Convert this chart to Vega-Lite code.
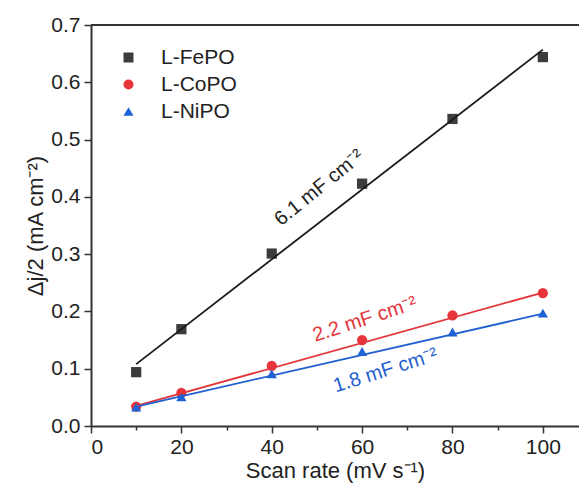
{
  "$schema": "https://vega.github.io/schema/vega-lite/v6.json",
  "width": 488,
  "height": 401,
  "autosize": {"type": "none"},
  "padding": {"left": 91, "top": 25, "right": 0, "bottom": 62},
  "background": "white",
  "config": {
    "view": {"stroke": null},
    "font": "Liberation Sans",
    "axis": {"grid": false, "domainColor": "#333333", "domainWidth": 2, "tickColor": "#333333", "tickWidth": 1.5, "labelColor": "#222222", "titleColor": "#222222", "labelFont": "Liberation Sans", "titleFont": "Liberation Sans", "labelFontSize": 21, "titleFontSize": 22, "titleFontWeight": "normal"}
  },
  "datasets": {
    "pts": [
      {"series": "L-FePO", "x": 10, "y": 0.094},
      {"series": "L-FePO", "x": 20, "y": 0.169},
      {"series": "L-FePO", "x": 40, "y": 0.301},
      {"series": "L-FePO", "x": 60, "y": 0.423},
      {"series": "L-FePO", "x": 80, "y": 0.536},
      {"series": "L-FePO", "x": 100, "y": 0.644},
      {"series": "L-CoPO", "x": 10, "y": 0.034},
      {"series": "L-CoPO", "x": 20, "y": 0.058},
      {"series": "L-CoPO", "x": 40, "y": 0.105},
      {"series": "L-CoPO", "x": 60, "y": 0.150},
      {"series": "L-CoPO", "x": 80, "y": 0.193},
      {"series": "L-CoPO", "x": 100, "y": 0.232},
      {"series": "L-NiPO", "x": 10, "y": 0.033},
      {"series": "L-NiPO", "x": 20, "y": 0.051},
      {"series": "L-NiPO", "x": 40, "y": 0.091},
      {"series": "L-NiPO", "x": 60, "y": 0.130},
      {"series": "L-NiPO", "x": 80, "y": 0.164},
      {"series": "L-NiPO", "x": 100, "y": 0.197}
    ],
    "fits": [
      {"series": "L-FePO", "x": 10, "y": 0.108},
      {"series": "L-FePO", "x": 100, "y": 0.657},
      {"series": "L-CoPO", "x": 10, "y": 0.035},
      {"series": "L-CoPO", "x": 100, "y": 0.233},
      {"series": "L-NiPO", "x": 10, "y": 0.034},
      {"series": "L-NiPO", "x": 100, "y": 0.196}
    ],
    "labels": [
      {"series": "L-FePO", "label": "6.1 mF cm⁻²", "x": 50.5, "y": 0.416},
      {"series": "L-CoPO", "label": "2.2 mF cm⁻²", "x": 60.6, "y": 0.186},
      {"series": "L-NiPO", "label": "1.8 mF cm⁻²", "x": 65.2, "y": 0.097}
    ],
    "frame": [{"y": 0.7}]
  },
  "layer": [
    {
      "data": {"name": "pts"},
      "mark": {"type": "point", "filled": true, "opacity": 1, "size": 105},
      "encoding": {
        "x": {"field": "x", "type": "quantitative", "scale": {"domain": [0, 108], "nice": false, "zero": false},
          "axis": {"title": "Scan rate (mV s⁻¹)", "values": [0, 10, 20, 30, 40, 50, 60, 70, 80, 90, 100], "labelExpr": "datum.value % 20 == 0 ? datum.label : ''", "tickSize": {"condition": {"test": "datum.value % 20 != 0", "value": 4}, "value": 7}, "labelPadding": 3, "titlePadding": 3}},
        "y": {"field": "y", "type": "quantitative", "scale": {"domain": [0, 0.7], "nice": false},
          "axis": {"title": "Δj/2 (mA cm⁻²)", "values": [0, 0.05, 0.1, 0.15, 0.2, 0.25, 0.3, 0.35, 0.4, 0.45, 0.5, 0.55, 0.6, 0.65, 0.7], "labelExpr": "round(datum.value*100) % 10 == 5 ? '' : format(datum.value, '.1f')", "tickSize": {"condition": {"test": "round(datum.value*100) % 10 == 5", "value": 4}, "value": 7}, "labelPadding": 4, "titlePadding": 3}},
        "color": {"field": "series", "type": "nominal", "scale": {"domain": ["L-FePO", "L-CoPO", "L-NiPO"], "range": ["#3c3c3c", "#e8343b", "#1d62d6"]},
          "legend": {"title": null, "orient": "none", "legendX": 27, "legendY": 22, "padding": 0, "labelFontSize": 21, "labelFont": "Liberation Sans", "labelColor": "#222222", "labelOffset": 22, "rowPadding": 5, "symbolSize": 100}},
        "shape": {"field": "series", "type": "nominal", "scale": {"domain": ["L-FePO", "L-CoPO", "L-NiPO"], "range": ["square", "circle", "triangle-up"]},
          "legend": {"title": null, "orient": "none", "legendX": 27, "legendY": 22, "padding": 0, "labelFontSize": 21, "labelFont": "Liberation Sans", "labelColor": "#222222", "labelOffset": 22, "rowPadding": 5, "symbolSize": 100}}
      }
    },
    {
      "data": {"name": "frame"},
      "mark": {"type": "rule", "color": "#333333", "strokeWidth": 2},
      "encoding": {
        "y": {"field": "y", "type": "quantitative"}
      }
    },
    {
      "data": {"name": "fits"},
      "transform": [{"filter": "datum.series == 'L-FePO'"}],
      "mark": {"type": "line", "strokeWidth": 1.8, "color": "#1a1a1a"},
      "encoding": {
        "x": {"field": "x", "type": "quantitative"},
        "y": {"field": "y", "type": "quantitative"}
      }
    },
    {
      "data": {"name": "fits"},
      "transform": [{"filter": "datum.series == 'L-CoPO'"}],
      "mark": {"type": "line", "strokeWidth": 1.8, "color": "#e3343b"},
      "encoding": {
        "x": {"field": "x", "type": "quantitative"},
        "y": {"field": "y", "type": "quantitative"}
      }
    },
    {
      "data": {"name": "fits"},
      "transform": [{"filter": "datum.series == 'L-NiPO'"}],
      "mark": {"type": "line", "strokeWidth": 1.8, "color": "#1f5fcf"},
      "encoding": {
        "x": {"field": "x", "type": "quantitative"},
        "y": {"field": "y", "type": "quantitative"}
      }
    },
    {
      "data": {"name": "labels"},
      "transform": [{"filter": "datum.series == 'L-FePO'"}],
      "mark": {"type": "text", "angle": -39, "fontSize": 20, "color": "#222222", "align": "center", "baseline": "middle"},
      "encoding": {
        "x": {"field": "x", "type": "quantitative"},
        "y": {"field": "y", "type": "quantitative"},
        "text": {"field": "label"}
      }
    },
    {
      "data": {"name": "labels"},
      "transform": [{"filter": "datum.series == 'L-CoPO'"}],
      "mark": {"type": "text", "angle": -18, "fontSize": 20, "color": "#e3343b", "align": "center", "baseline": "middle"},
      "encoding": {
        "x": {"field": "x", "type": "quantitative"},
        "y": {"field": "y", "type": "quantitative"},
        "text": {"field": "label"}
      }
    },
    {
      "data": {"name": "labels"},
      "transform": [{"filter": "datum.series == 'L-NiPO'"}],
      "mark": {"type": "text", "angle": -17.5, "fontSize": 20, "color": "#1f5fcf", "align": "center", "baseline": "middle"},
      "encoding": {
        "x": {"field": "x", "type": "quantitative"},
        "y": {"field": "y", "type": "quantitative"},
        "text": {"field": "label"}
      }
    }
  ]
}
